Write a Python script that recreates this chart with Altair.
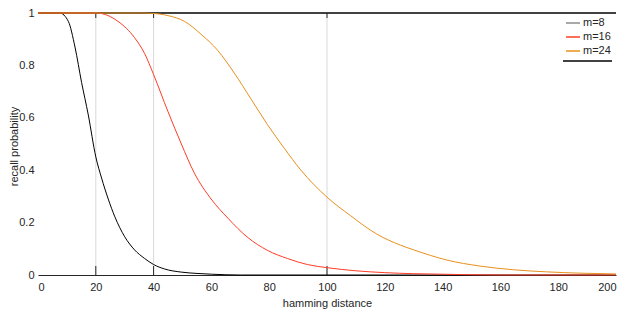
import altair as alt
import pandas as pd

# ---- data ----
series_names = ["m=8", "m=16", "m=24"]

x_m8 = [0, 7.5, 10.5, 12.8, 15.1, 17.4, 20, 22, 24.3, 26.6, 30, 33.4, 36.9, 40, 43.8, 49.6, 55, 60, 65, 70, 200]
y_m8 = [1, 1, 0.968, 0.87, 0.734, 0.611, 0.451, 0.37, 0.29, 0.222, 0.146, 0.096, 0.063, 0.04, 0.023, 0.011, 0.006, 0.003, 0.001, 0, 0]

x_m16 = [0, 20.2, 22, 27.7, 33.4, 36.9, 40, 45, 49.6, 54.1, 59.9, 65.7, 72.6, 79.4, 86.3, 93.2, 100, 110, 120, 130, 140, 150, 160, 200]
y_m16 = [1, 1, 0.998, 0.968, 0.906, 0.845, 0.765, 0.623, 0.5, 0.389, 0.29, 0.217, 0.143, 0.094, 0.063, 0.04, 0.028, 0.016, 0.009, 0.005, 0.003, 0.001, 0, 0]

x_m24 = [0, 36, 39, 45, 50.7, 56.4, 62.2, 67.9, 73.7, 79.4, 85.2, 90.9, 100, 108.2, 117.4, 125.4, 130, 141.5, 153, 164.5, 176, 187.5, 200]
y_m24 = [1, 1, 0.999, 0.99, 0.968, 0.919, 0.857, 0.771, 0.672, 0.574, 0.484, 0.401, 0.297, 0.226, 0.155, 0.114, 0.096, 0.057, 0.034, 0.02, 0.012, 0.007, 0.004]

grid_x = [20, 40, 100]
x_ticks = [0, 20, 40, 60, 80, 100, 120, 140, 160, 180, 200]
y_ticks = [0, 0.2, 0.4, 0.6, 0.8, 1]

line_colors = ["#000000", "#ff3c25", "#e8901c"]
legend_colors = ["#8c8c8c", "#ff3c25", "#e8901c"]

# ---- tables ----
frames = []
for name, xs, ys in zip(series_names, [x_m8, x_m16, x_m24], [y_m8, y_m16, y_m24]):
    frames.append(pd.DataFrame({"x": xs, "y": ys, "series": name}))
df = pd.concat(frames, ignore_index=True)
grid_df = pd.DataFrame({"x": grid_x})

W, H = 578, 262
FONT = "Liberation Sans"
INK = "#262626"

xscale = alt.Scale(domain=[0, 200], nice=False)
yscale = alt.Scale(domain=[0, 1], nice=False)
xaxis = alt.Axis(values=x_ticks, format="d", grid=False, ticks=False, tickSize=0,
                 domainColor=INK, labelPadding=6, titlePadding=5, title="hamming distance")
yaxis = alt.Axis(values=y_ticks, format="~g", grid=False, ticks=False, tickSize=0,
                 domain=False, labelPadding=4, title="recall probability",
                 titleX=-24, titleY=H / 2 + 2, titleAngle=270, titleBaseline="middle",
                 titleAlign="center")

X = alt.X("x:Q", scale=xscale, axis=xaxis)
Y = alt.Y("y:Q", scale=yscale, axis=yaxis)

grid = alt.Chart(grid_df).mark_rule(color="#d9d9d9", strokeWidth=1).encode(
    x=X, y=alt.value(0), y2=alt.value(H))
tick_top = alt.Chart(grid_df).mark_rule(color=INK, strokeWidth=1).encode(
    x=X, y=alt.value(0), y2=alt.value(5))
tick_bot = alt.Chart(grid_df).mark_rule(color=INK, strokeWidth=1).encode(
    x=X, y=alt.value(H - 9), y2=alt.value(H))
border = alt.Chart(grid_df).mark_rule(color=INK, strokeWidth=1).encode(
    x=alt.value(0), x2=alt.value(W), y=alt.value(0))

legend_layer = alt.Chart(df).transform_filter("datum.x < -1").mark_line(strokeWidth=1.5).encode(
    x=X, y=Y,
    stroke=alt.Stroke("series:N",
                      scale=alt.Scale(domain=series_names, range=legend_colors),
                      legend=alt.Legend(title=None, orient="none", legendX=527, legendY=2,
                                        symbolType="stroke", symbolSize=196, symbolStrokeWidth=1.5,
                                        labelFontSize=11, labelOffset=2, rowPadding=1, padding=0,
                                        labelFont=FONT, labelColor=INK)))
underline = alt.Chart(grid_df).mark_rule(color=INK, strokeWidth=1).encode(
    x=alt.value(525), x2=alt.value(574), y=alt.value(48))

lines = []
for name, col in zip(series_names, line_colors):
    lines.append(
        alt.Chart(df[df.series == name]).mark_line(color=col, strokeWidth=1, interpolate="monotone")
        .encode(x=X, y=Y)
    )

chart = alt.layer(grid, tick_top, tick_bot, border, legend_layer, underline, *lines).properties(
    width=W, height=H,
    autosize=alt.AutoSizeParams(type="none"),
    padding={"left": 30, "top": 5, "right": 2, "bottom": 37},
).configure_view(stroke=None).configure_axis(
    labelFont=FONT, titleFont=FONT, labelFontSize=11, titleFontSize=11,
    labelColor=INK, titleColor=INK, titleFontWeight="normal"
)

chart.save("out.html", embed_options={"renderer": "svg", "actions": False})
